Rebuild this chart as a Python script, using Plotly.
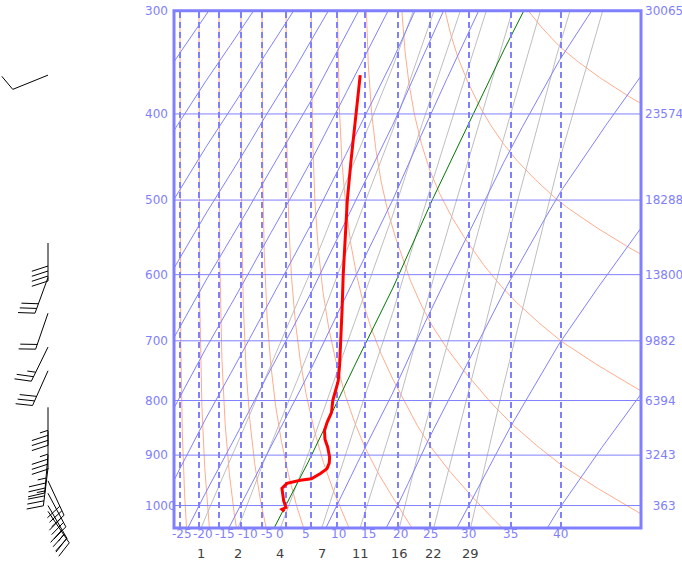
import numpy as np
import plotly.graph_objects as go

# ---------------- data ----------------
PRESSURE_LEVELS = [300, 400, 500, 600, 700, 800, 900, 1000]
HEIGHT_LABELS = ["30065", "23574", "18288", "13800", "9882", "6394", "3243", "363"]
THETA_W_LABELS = [-25, -20, -15, -10, -5, 0, 5, 10, 15, 20, 25, 30, 35, 40]
MIXING_RATIOS = [1, 2, 4, 7, 11, 16, 22, 29]          # g/kg
ISOTHERMS = [-90, -80, -70, -60, -50, -40, -30, -20, -10, 0, 10, 20, 30, 40]

# temperature sounding (hPa, degC)
SOUND_P = [1012, 1008, 1004, 990, 965, 955, 949, 946, 935, 926, 915, 904, 885, 870,
           854, 839, 821, 800, 777, 766, 740, 700, 650, 600, 550, 500, 450, 400, 360]
SOUND_T = [0.3, -0.4, 0.2, -1.0, -2.7, -2.2, 0.3, 2.4, 3.8, 4.6, 4.5, 4.0, 2.6, 1.2,
           0.2, -0.1, -0.2, -1.2, -1.8, -2.1, -3.5, -6.0, -9.5, -13.5, -17.7, -22.6, -27.6, -33.1, -38.2]

# winds (hPa, direction deg, speed kt)
WIND_P = [360, 556, 604, 657, 710, 749, 812, 855, 900, 925, 950, 975, 1000, 1012]
WIND_DIR = [248, 180, 200, 199, 206, 204, 180, 180, 185, 187, 155, 152, 150, 146]
WIND_SPD = [10, 40, 30, 20, 25, 30, 35, 35, 35, 35, 30, 30, 30, 25]

# ---------------- layout constants (pixels) ----------------
W, H = 682, 563
FL, FR, FT, FB = 174.0, 641.0, 10.7, 528.0
P_TOP, P_BOT = 300.0, 1047.0
KAP = 0.286
# horizontal scale: pixel position of each theta-w line, plus frame edges
TICK_PX = [180, 199, 219, 241, 262, 286, 311, 337, 365, 398, 430, 469, 511, 561]
TICK_LABEL_DX = [2, 3.5, 6, 7, 4.5, -6.5, -5, 1, 3, 2, 0, -1, -1, -1]
EDGE_THETA = (247.75, 582.5)

BLUE = "rgb(128,128,255)"
ORANGE = "rgb(255,172,140)"
GRAY = "rgb(190,190,190)"
FONT = "DejaVu Sans"


def sat_vp(tc):
    return 6.112 * np.exp(17.67 * tc / (tc + 243.5))


def theta_es(tc, p):
    tc = np.asarray(tc, float)
    p = np.asarray(p, float)
    tk = tc + 273.15
    e = sat_vp(np.minimum(tc, 150))
    ok = e < 0.6 * p
    e = np.where(ok, e, 0.0)
    r = 0.622 * e / (p - e)
    th = tk * (1000.0 / (p - e)) ** 0.2854
    val = th * np.exp((3036.0 / tk - 1.78) * r * (1 + 0.448 * r))
    return np.where(ok, val, 1e4)


# anchors for horizontal scale (linear in 1/theta_es between anchors)
anc_theta = np.concatenate([[EDGE_THETA[0]],
                            [float(theta_es(t, 1000.0)) for t in THETA_W_LABELS],
                            [EDGE_THETA[1]]])
anc_u = np.concatenate([[0.0], np.array(TICK_PX, float) - FL, [FR - FL]])
anc_v = -1.0 / anc_theta


def u_of(theta):
    v = -1.0 / np.asarray(theta, float)
    u = np.interp(v, anc_v, anc_u)
    lo = v < anc_v[0]
    hi = v > anc_v[-1]
    s0 = (anc_u[1] - anc_u[0]) / (anc_v[1] - anc_v[0])
    s1 = (anc_u[-1] - anc_u[-2]) / (anc_v[-1] - anc_v[-2])
    u = np.where(lo, anc_u[0] + (v - anc_v[0]) * s0, u)
    u = np.where(hi, anc_u[-1] + (v - anc_v[-1]) * s1, u)
    return u


def Y(p):
    return np.asarray(p, float) ** KAP


Y_TOP, Y_BOT = float(Y(P_TOP)), float(Y(P_BOT))
PX_PER_Y = (FB - FT) / (Y_BOT - Y_TOP)


def y_at_px(px):
    return Y_TOP + (px - FT) / PX_PER_Y


pp = np.geomspace(P_TOP, P_BOT, 240)
yy = Y(pp)

fig = go.Figure()

# dry adiabats (orange)
for tw in THETA_W_LABELS:
    th = float(theta_es(tw, 1000.0))
    tk = th * (pp / 1000.0) ** 0.2854
    fig.add_trace(go.Scatter(x=u_of(theta_es(tk - 273.15, pp)), y=yy, mode="lines",
                             line=dict(color=ORANGE, width=1), hoverinfo="skip"))

# saturation mixing-ratio lines (gray)
for w in MIXING_RATIOS:
    e = (w / 1000.0) * pp / (0.622 + w / 1000.0)
    a = np.log(e / 6.112)
    tc = 243.5 * a / (17.67 - a)
    fig.add_trace(go.Scatter(x=u_of(theta_es(tc, pp)), y=yy, mode="lines",
                             line=dict(color=GRAY, width=1), hoverinfo="skip"))

# isotherms (blue, 0 degC green)
for t in ISOTHERMS:
    col = "rgb(0,120,0)" if t == 0 else BLUE
    fig.add_trace(go.Scatter(x=u_of(theta_es(np.full_like(pp, t), pp)), y=yy, mode="lines",
                             line=dict(color=col, width=1), hoverinfo="skip"))

# pseudo-adiabats (vertical dashed)
for tw in THETA_W_LABELS:
    uu = float(u_of(theta_es(tw, 1000.0)))
    fig.add_trace(go.Scatter(x=[uu, uu], y=[Y_BOT, Y_TOP], mode="lines",
                             line=dict(color=BLUE, width=2, dash="6px,4px"), hoverinfo="skip"))

# isobars
for p in PRESSURE_LEVELS[1:]:
    fig.add_trace(go.Scatter(x=[0, FR - FL], y=[Y(p), Y(p)], mode="lines",
                             line=dict(color=BLUE, width=1), hoverinfo="skip"))

# sounding
sp = np.array(SOUND_P, float)
st = np.array(SOUND_T, float)
fig.add_trace(go.Scatter(x=u_of(theta_es(st, sp)), y=Y(sp), mode="lines",
                         line=dict(color="red", width=3), hoverinfo="skip"))

# wind barbs (left panel, pixel units horizontally, pressure scale vertically)
BARB_X = 48.0
STAFF = 38.0
FEATH = 17.0
GAP = 5.0
TILT = np.deg2rad(18)
bx, by = [], []
for p, d, s in zip(WIND_P, WIND_DIR, WIND_SPD):
    y0 = FT + (float(Y(p)) - Y_TOP) * PX_PER_Y
    th = np.deg2rad(d)
    ux, uy = np.sin(th), -np.cos(th)
    px, py = -uy, ux
    fx = np.cos(TILT) * px + np.sin(TILT) * ux
    fy = np.cos(TILT) * py + np.sin(TILT) * uy
    x1, y1 = BARB_X + STAFF * ux, y0 + STAFF * uy
    segs = [[(BARB_X, y0), (x1, y1)]]
    n10 = int(s // 10)
    half = (s % 10) >= 5
    pos = 0.0
    for k in range(n10):
        sx, sy = x1 - pos * ux, y1 - pos * uy
        segs.append([(sx, sy), (sx + FEATH * fx, sy + FEATH * fy)])
        pos += GAP
    if half:
        sx, sy = x1 - pos * ux, y1 - pos * uy
        segs.append([(sx, sy), (sx + 0.5 * FEATH * fx, sy + 0.5 * FEATH * fy)])
    for sg in segs:
        for (qx, qy) in sg:
            bx.append(qx)
            by.append(y_at_px(qy))
        bx.append(None)
        by.append(None)
fig.add_trace(go.Scatter(x=bx, y=by, xaxis="x2", yaxis="y2", mode="lines",
                         line=dict(color="black", width=1), hoverinfo="skip"))

# frame
fig.add_shape(type="rect", xref="paper", yref="paper",
              x0=FL / W, x1=FR / W, y0=1 - FB / H, y1=1 - FT / H,
              line=dict(color=BLUE, width=3))

ann = []
for p, lab in zip(PRESSURE_LEVELS, HEIGHT_LABELS):
    ann.append(dict(x=143 / W, xref="paper", y=float(Y(p)), yref="y", text=str(p),
                    xanchor="left", yanchor="middle", showarrow=False,
                    font=dict(family=FONT, size=12, color=BLUE)))
    ann.append(dict(x=643 / W, xref="paper", y=float(Y(p)), yref="y",
                    text=lab if len(lab) > 3 else "\u2007" + lab,
                    xanchor="left", yanchor="middle", showarrow=False,
                    font=dict(family=FONT, size=12, color=BLUE)))
for tw, dx in zip(THETA_W_LABELS, TICK_LABEL_DX):
    ann.append(dict(x=float(u_of(theta_es(tw, 1000.0))) + dx, xref="x", y=1 - 534 / H, yref="paper",
                    text=str(tw), xanchor="center", yanchor="middle", showarrow=False,
                    font=dict(family=FONT, size=12, color=BLUE)))
for w in MIXING_RATIOS:
    e = (w / 1000.0) * P_BOT / (0.622 + w / 1000.0)
    a = np.log(e / 6.112)
    tc = 243.5 * a / (17.67 - a)
    ann.append(dict(x=float(u_of(theta_es(tc, P_BOT))), xref="x", y=1 - 553 / H, yref="paper",
                    text=str(w), xanchor="center", yanchor="middle", showarrow=False,
                    font=dict(family=FONT, size=13, color="rgb(64,64,64)")))

fig.update_layout(
    width=W, height=H, margin=dict(l=0, r=0, t=0, b=0),
    plot_bgcolor="rgba(0,0,0,0)", paper_bgcolor="white", showlegend=False,
    xaxis=dict(domain=[FL / W, FR / W], range=[0, FR - FL], visible=False, anchor="y"),
    yaxis=dict(domain=[1 - FB / H, 1 - FT / H], range=[Y_BOT, Y_TOP], visible=False, anchor="x"),
    xaxis2=dict(domain=[0, 170 / W], range=[0, 170], visible=False, anchor="y2"),
    yaxis2=dict(domain=[0, 1], range=[y_at_px(H), y_at_px(0)], visible=False, anchor="x2"),
    annotations=ann,
)

fig.write_html("out.html", config={"displayModeBar": False},
               post_script="document.body.style.margin='0';document.body.style.overflow='hidden';")
